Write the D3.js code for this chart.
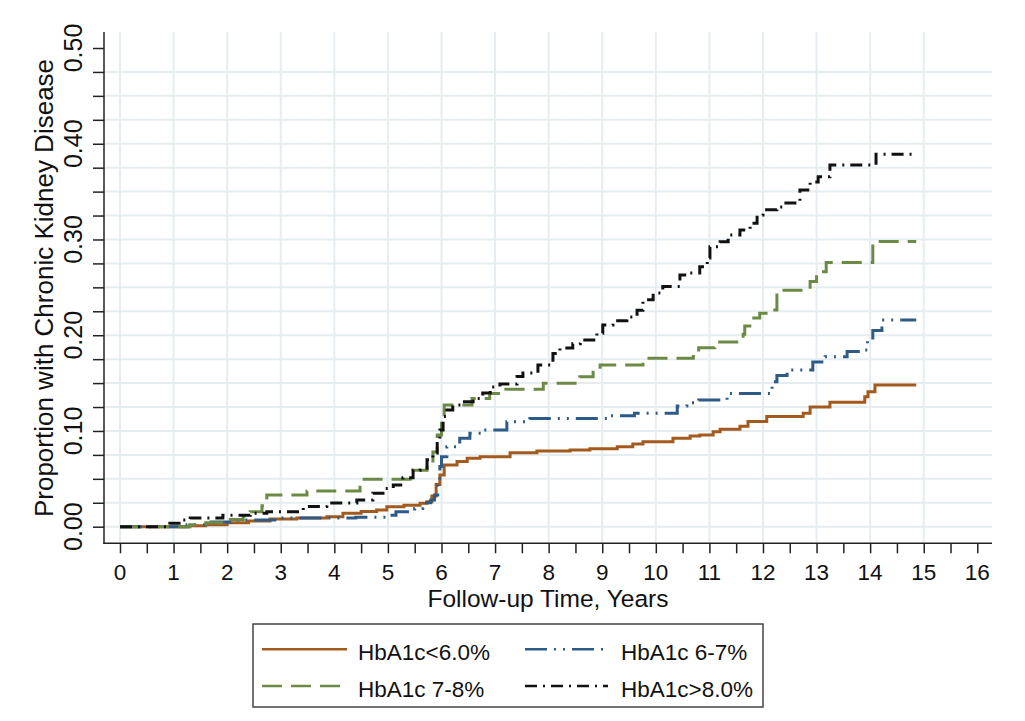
<!DOCTYPE html>
<html>
<head>
<meta charset="utf-8">
<script src="https://cdn.jsdelivr.net/npm/d3@7"></script>
<style>
html,body{margin:0;padding:0;background:#fff;}
svg{display:block;font-family:"Liberation Sans",Arial,Helvetica,sans-serif;}
</style>
</head>
<body>
<svg id="chart" width="1025" height="721"></svg>
<script>
// ---- data ----
const seriesNames = ["HbA1c<6.0%", "HbA1c 6-7%", "HbA1c 7-8%", "HbA1c>8.0%"];
const xTicks = d3.range(0, 17, 1);
const xMinorTicks = d3.range(0.5, 16, 1);
const yTickLabels = [0, 0.1, 0.2, 0.3, 0.4, 0.5];
const yMinorTicks = d3.range(0, 0.5001, 0.025);
const endTime = 14.86;

// [time (years), cumulative proportion]
const hbLt6 = [
  [0,0],[1.3,0.001],[1.6,0.002],[2.0,0.004],[2.4,0.006],[2.8,0.008],[3.3,0.009],
  [3.86,0.0104],[4.16,0.014],[4.5,0.016],[4.79,0.0174],[4.98,0.0209],[5.3,0.0225],
  [5.6,0.0244],[5.73,0.026],[5.82,0.032],[5.9,0.044],[5.97,0.054],[6.05,0.0644],
  [6.29,0.068],[6.48,0.0714],[6.72,0.0731],[7.28,0.0773],[7.78,0.079],[8.4,0.080],
  [8.77,0.0815],[9.28,0.0836],[9.57,0.0864],[9.76,0.0888],[10.32,0.0923],[10.64,0.0947],
  [10.82,0.0958],[11.07,0.0992],[11.2,0.1017],[11.57,0.105],[11.72,0.110],[12.07,0.115],
  [12.75,0.1184],[12.88,0.125],[13.25,0.13],[13.9,0.1358],[13.96,0.141],[14.09,0.148]
];
const hb6to7 = [
  [0,0],[1.25,0.002],[1.7,0.005],[2.2,0.007],[3.0,0.009],[4.4,0.010],[5.0,0.012],
  [5.15,0.0157],[5.5,0.019],[5.65,0.025],[5.8,0.028],[5.87,0.033],[5.93,0.049],
  [5.97,0.063],[6.0,0.073],[6.1,0.0836],[6.34,0.0923],[6.53,0.0975],[6.77,0.101],
  [7.22,0.1097],[7.65,0.113],[9.1,0.116],[9.6,0.1184],[10.4,0.126],[10.58,0.1295],[10.8,0.1323],
  [11.33,0.139],[12.17,0.1515],[12.26,0.158],[12.45,0.1637],[12.93,0.172],[13.16,0.1776],
  [13.57,0.183],[13.87,0.1846],[13.95,0.195],[14.05,0.205],[14.22,0.216]
];
const hb7to8 = [
  [0,0],[1.3,0.002],[1.6,0.004],[2.0,0.0075],[2.3,0.011],[2.43,0.0157],[2.65,0.022],
  [2.74,0.033],[3.49,0.0373],[4.48,0.0495],[5.47,0.059],[5.73,0.0644],[5.84,0.078],
  [5.92,0.0958],[6.0,0.108],[6.05,0.127],[6.57,0.134],[6.9,0.139],[7.2,0.1435],
  [7.9,0.1498],[8.58,0.1567],[8.83,0.163],[8.96,0.169],[9.76,0.176],[10.7,0.181],
  [10.8,0.187],[11.1,0.193],[11.63,0.201],[11.66,0.2096],[11.79,0.218],[11.94,0.2229],
  [12.13,0.2263],[12.26,0.247],[12.88,0.256],[13.0,0.2663],[13.18,0.276],[14.05,0.298]
];
const hbGt8 = [
  [0,0],[0.93,0.0036],[1.18,0.007],[1.31,0.009],[1.92,0.012],[2.43,0.014],[2.74,0.0157],
  [3.42,0.021],[3.86,0.0248],[4.42,0.028],[4.72,0.035],[4.95,0.040],[5.10,0.0436],
  [5.28,0.051],[5.47,0.059],[5.60,0.061],[5.73,0.070],[5.84,0.077],[5.92,0.0906],
  [5.97,0.101],[6.03,0.115],[6.10,0.122],[6.21,0.127],[6.40,0.1306],[6.59,0.134],
  [6.77,0.1397],[6.91,0.146],[7.09,0.149],[7.41,0.157],[7.52,0.1605],[7.80,0.169],
  [8.08,0.181],[8.21,0.1866],[8.45,0.191],[8.59,0.195],[8.90,0.202],[9.01,0.2107],
  [9.20,0.215],[9.46,0.219],[9.65,0.226],[9.76,0.237],[9.95,0.244],[10.13,0.251],
  [10.45,0.263],[10.58,0.265],[10.82,0.2716],[10.96,0.2807],[11.01,0.2925],[11.20,0.2977],
  [11.35,0.3047],[11.57,0.31],[11.76,0.317],[11.89,0.3256],[12.00,0.331],[12.26,0.334],
  [12.37,0.338],[12.69,0.3517],[12.88,0.360],[13.03,0.3656],[13.25,0.3778],[14.11,0.389]
];
const seriesData = [hbLt6, hb6to7, hb7to8, hbGt8];
const seriesColors = ["#a35a1e", "#2d5a86", "#6c8a45", "#111111"];
const seriesDash = ["none", "22,7,2,7,2,7", "20,9", "12,6,2,6"];

// ---- layout ----
const svg = d3.select("#chart");
const x = d3.scaleLinear().domain([0, 16]).range([120, 977.3]);
const y = d3.scaleLinear().domain([0, 0.5]).range([526.7, 48]);
const plotLeft = 104, plotRight = 992, plotTop = 32, plotBottom = 543.3;
const gridColor = "#e6edf0";

// grid
const g = svg.append("g");
g.selectAll("line.hg").data(yMinorTicks.filter(v => v < 0.49)).enter().append("line")
  .attr("x1", plotLeft).attr("x2", plotRight)
  .attr("y1", d => y(d)).attr("y2", d => y(d))
  .attr("stroke", gridColor).attr("stroke-width", 2);
g.selectAll("line.vg").data(xTicks.filter(v => v < 16)).enter().append("line")
  .attr("x1", d => x(d)).attr("x2", d => x(d))
  .attr("y1", plotTop).attr("y2", plotBottom)
  .attr("stroke", gridColor).attr("stroke-width", 2);

// axes
const yAxis = d3.axisLeft(y).tickValues(yMinorTicks).tickSize(11).tickFormat("");
const yg = svg.append("g").attr("transform", `translate(${plotLeft},0)`).call(yAxis);
yg.select(".domain").remove();
yg.selectAll(".tick line").attr("stroke", "#222").attr("stroke-width", 1.5);
svg.append("line").attr("x1", plotLeft).attr("x2", plotLeft).attr("y1", plotTop).attr("y2", plotBottom + 0.7)
  .attr("stroke", "#222").attr("stroke-width", 1.5);

const allX = xTicks.concat(xMinorTicks).sort((a, b) => a - b);
const xAxis = d3.axisBottom(x).tickValues(allX).tickSize(10).tickFormat("");
const xg = svg.append("g").attr("transform", `translate(0,${plotBottom})`).call(xAxis);
xg.select(".domain").remove();
xg.selectAll(".tick line").attr("stroke", "#222").attr("stroke-width", 1.5);
svg.append("line").attr("x1", plotLeft - 0.7).attr("x2", plotRight).attr("y1", plotBottom).attr("y2", plotBottom)
  .attr("stroke", "#222").attr("stroke-width", 1.5);

// tick labels
svg.selectAll("text.xt").data(xTicks).enter().append("text")
  .attr("x", d => x(d)).attr("y", 580)
  .attr("text-anchor", "middle").attr("font-size", 22.5).attr("fill", "#111")
  .text(d => d);
svg.selectAll("text.yt").data(yTickLabels).enter().append("text")
  .attr("transform", d => `translate(82,${y(d)}) rotate(-90)`)
  .attr("text-anchor", "middle").attr("font-size", 25).attr("fill", "#111")
  .text(d => d3.format(".2f")(d));

// titles
svg.append("text").attr("x", (plotLeft + plotRight) / 2).attr("y", 607)
  .attr("text-anchor", "middle").attr("font-size", 24.5).attr("fill", "#111")
  .text("Follow-up Time, Years");
svg.append("text").attr("transform", "translate(53,288) rotate(-90)")
  .attr("text-anchor", "middle").attr("font-size", 26).attr("fill", "#111")
  .text("Proportion with Chronic Kidney Disease");

// curves
const line = d3.line().x(d => x(d[0])).y(d => y(d[1])).curve(d3.curveStepAfter);
seriesData.forEach((s, i) => {
  const pts = s.concat([[endTime, s[s.length - 1][1]]]);
  svg.append("path").datum(pts)
    .attr("d", line)
    .attr("fill", "none")
    .attr("stroke", seriesColors[i])
    .attr("stroke-width", 3)
    .attr("stroke-dasharray", seriesDash[i]);
});

// legend
const leg = svg.append("g");
leg.append("rect").attr("x", 253).attr("y", 624).attr("width", 510).attr("height", 83)
  .attr("fill", "#fff").attr("stroke", "#444").attr("stroke-width", 1.5);
const legPos = [
  {lx1: 262, lx2: 347, ly: 649.3, tx: 358, ty: 659.5},
  {lx1: 525, lx2: 608, ly: 649.3, tx: 621, ty: 659.5},
  {lx1: 262, lx2: 347, ly: 686, tx: 358, ty: 696.5},
  {lx1: 525, lx2: 608, ly: 686, tx: 621, ty: 696.5}
];
seriesNames.forEach((name, i) => {
  const p = legPos[i];
  leg.append("line").attr("x1", p.lx1).attr("x2", p.lx2).attr("y1", p.ly).attr("y2", p.ly)
    .attr("stroke", seriesColors[i]).attr("stroke-width", 2.5)
    .attr("stroke-dasharray", seriesDash[i]);
  leg.append("text").attr("x", p.tx).attr("y", p.ty)
    .attr("font-size", 22.5).attr("fill", "#111").text(name);
});
</script>
</body>
</html>
